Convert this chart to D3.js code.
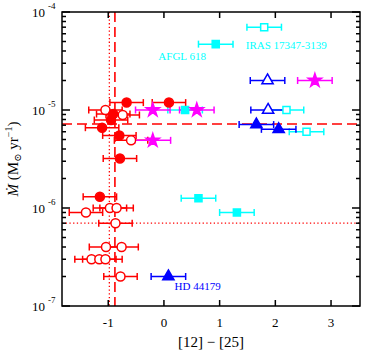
<!DOCTYPE html>
<html>
<head>
<meta charset="utf-8">
<script src="https://cdn.jsdelivr.net/npm/d3@7"></script>
<style>
  body { margin: 0; background: #fff; }
  svg { display: block; }
  text { font-family: "Liberation Serif", "DejaVu Serif", serif; }
</style>
</head>
<body>
<div id="chart"></div>
<script>
// [x = [12]-[25], Mdot, xerr]
const redFilled = [
    [-0.67, 1.19e-5, 0.3], [0.09, 1.19e-5, 0.3], [-0.91, 9.1e-6, 0.3],
    [-0.95, 7.9e-6, 0.3], [-1.11, 6.6e-6, 0.3], [-0.80, 5.5e-6, 0.3],
    [-0.79, 3.2e-6, 0.3], [-1.15, 1.3e-6, 0.3]
];
const redOpen = [
    [-1.05, 1.0e-5, 0.3], [-0.74, 8.9e-6, 0.3], [-0.59, 4.9e-6, 0.3],
    [-0.97, 1.0e-6, 0.3], [-0.85, 1.0e-6, 0.3], [-1.40, 9.0e-7, 0.3],
    [-0.87, 7.0e-7, 0.3], [-1.04, 4.0e-7, 0.3], [-0.76, 4.0e-7, 0.3],
    [-1.30, 3.0e-7, 0.3], [-1.16, 3.0e-7, 0.3], [-1.05, 3.0e-7, 0.3],
    [-0.78, 2.0e-7, 0.3]
];
const magentaStars = [
    [-0.20, 1.0e-5, 0.31], [0.59, 1.0e-5, 0.31], [-0.20, 4.9e-6, 0.32], [2.71, 2.0e-5, 0.31]
];
const cyanFilled = [
    [0.93, 4.7e-5, 0.31], [0.38, 1.0e-5, 0.31], [0.62, 1.26e-6, 0.31], [1.31, 9.0e-7, 0.31]
];
const cyanOpen = [
    [1.80, 7.0e-5, 0.31], [2.20, 1.0e-5, 0.31], [2.56, 6.0e-6, 0.31]
];
const blueOpen = [
    [1.86, 2.0e-5, 0.31], [1.87, 1.0e-5, 0.31]
];
const blueFilled = [
    [1.66, 7.1e-6, 0.31], [2.06, 6.35e-6, 0.31], [0.08, 2.0e-7, 0.31]
];
const xTicks = [-1, 0, 1, 2, 3];
const yTicks = [1e-7, 1e-6, 1e-5, 1e-4];
const yTickExp = ["-7", "-6", "-5", "-4"];
const dashedX = -0.88, dashedY = 7.2e-6;
const dottedX = -0.98, dottedY = 7.0e-7;
const labels = [
    {text: "AFGL 618", x: -0.10, y: 3.2e-5, color: "#00ffff"},
    {text: "IRAS 17347-3139", x: 1.47, y: 4.2e-5, color: "#00ffff"},
    {text: "HD 44179", x: 0.19, y: 1.45e-7, color: "#0000ff"}
];

const width = 366, height = 354;
const margin = {top: 12, right: 6, bottom: 48, left: 62};

const svg = d3.select("#chart").append("svg")
    .attr("width", width)
    .attr("height", height);

const x = d3.scaleLinear().domain([-1.83, 3.52]).range([margin.left, width - margin.right]);
const y = d3.scaleLog().domain([1e-7, 1e-4]).range([height - margin.bottom, margin.top]);

const x0 = margin.left, x1 = width - margin.right;
const y0 = height - margin.bottom, y1 = margin.top;

// reference lines
const refs = svg.append("g").attr("stroke", "#ff0000").attr("fill", "none");
refs.append("line").attr("x1", x(dashedX)).attr("x2", x(dashedX)).attr("y1", y1).attr("y2", y0)
    .attr("stroke-width", 1.6).attr("stroke-dasharray", "10,5");
refs.append("line").attr("x1", x0).attr("x2", x1).attr("y1", y(dashedY)).attr("y2", y(dashedY))
    .attr("stroke-width", 1.6).attr("stroke-dasharray", "10,5");
refs.append("line").attr("x1", x(dottedX)).attr("x2", x(dottedX)).attr("y1", y1).attr("y2", y0)
    .attr("stroke-width", 1.3).attr("stroke-dasharray", "1.3,2.4");
refs.append("line").attr("x1", x0).attr("x2", x1).attr("y1", y(dottedY)).attr("y2", y(dottedY))
    .attr("stroke-width", 1.3).attr("stroke-dasharray", "1.3,2.4");

function errorBars(data, color) {
    const g = svg.append("g").attr("stroke", color).attr("stroke-width", 1.5).attr("fill", "none");
    data.forEach(d => {
        const yy = y(d[1]), xa = x(d[0] - d[2]), xb = x(d[0] + d[2]);
        g.append("line").attr("x1", xa).attr("x2", xb).attr("y1", yy).attr("y2", yy);
        g.append("line").attr("x1", xa).attr("x2", xa).attr("y1", yy - 3.5).attr("y2", yy + 3.5);
        g.append("line").attr("x1", xb).attr("x2", xb).attr("y1", yy - 3.5).attr("y2", yy + 3.5);
    });
}

function markers(data, color, type, size, filled) {
    svg.append("g").selectAll("path")
        .data(data)
        .enter().append("path")
        .attr("d", d3.symbol().type(type).size(size))
        .attr("transform", d => `translate(${x(d[0])},${y(d[1])})`)
        .attr("fill", filled ? color : "#fff")
        .attr("stroke", color)
        .attr("stroke-width", 1.5);
}

const groups = [
    [redOpen, "#ff0000", d3.symbolCircle, 64, false],
    [redFilled, "#ff0000", d3.symbolCircle, 64, true],
    [cyanFilled, "#00ffff", d3.symbolSquare, 50, true],
    [cyanOpen, "#00ffff", d3.symbolSquare, 50, false],
    [magentaStars, "#ff00ff", d3.symbolStar, 55, true],
    [blueOpen, "#0000ff", d3.symbolTriangle, 55, false],
    [blueFilled, "#0000ff", d3.symbolTriangle, 55, true]
];
groups.forEach(g => errorBars(g[0], g[1]));
groups.forEach(g => markers(...g));

// labels
svg.append("g").selectAll("text")
    .data(labels)
    .enter().append("text")
    .attr("x", d => x(d.x))
    .attr("y", d => y(d.y))
    .attr("fill", d => d.color)
    .attr("font-size", 11)
    .text(d => d.text);

// frame and ticks
const axes = svg.append("g").attr("stroke", "#000").attr("stroke-width", 1.5);
axes.append("rect").attr("x", x0).attr("y", y1).attr("width", x1 - x0).attr("height", y0 - y1)
    .attr("fill", "none");

xTicks.forEach(t => {
    axes.append("line").attr("x1", x(t)).attr("x2", x(t)).attr("y1", y0).attr("y2", y0 - 6);
    axes.append("line").attr("x1", x(t)).attr("x2", x(t)).attr("y1", y1).attr("y2", y1 + 6);
    svg.append("text").attr("x", x(t)).attr("y", y0 + 21).attr("text-anchor", "middle")
        .attr("font-size", 13).text(t < 0 ? "-" + Math.abs(t) : t);
});

for (let e = -7; e < -4; e++) {
    for (let m = 2; m <= 9; m++) {
        const v = m * Math.pow(10, e);
        axes.append("line").attr("x1", x0).attr("x2", x0 + 4).attr("y1", y(v)).attr("y2", y(v));
        axes.append("line").attr("x1", x1).attr("x2", x1 - 4).attr("y1", y(v)).attr("y2", y(v));
    }
}
yTicks.forEach((t, i) => {
    axes.append("line").attr("x1", x0).attr("x2", x0 + 8).attr("y1", y(t)).attr("y2", y(t));
    axes.append("line").attr("x1", x1).attr("x2", x1 - 8).attr("y1", y(t)).attr("y2", y(t));
    svg.append("text").attr("x", 45).attr("y", y(t) + 4.5).attr("text-anchor", "end")
        .attr("font-size", 13).text("10");
    svg.append("text").attr("x", 48).attr("y", y(t) - 3).attr("font-size", 9).text(yTickExp[i]);
});

// axis titles
svg.append("text")
    .attr("x", (x0 + x1) / 2).attr("y", 347)
    .attr("text-anchor", "middle").attr("font-size", 15)
    .text("[12] \u2212 [25]");

const yt = svg.append("text")
    .attr("transform", `translate(18,${(y0 + y1) / 2}) rotate(-90)`)
    .attr("text-anchor", "middle").attr("font-size", 15);
yt.append("tspan").attr("font-style", "italic").text("\u1E40");
yt.append("tspan").text(" (M");
yt.append("tspan").attr("font-size", 10).attr("dy", 3).text("\u2299");
yt.append("tspan").attr("dy", -3).text(" yr");
yt.append("tspan").attr("font-size", 10).attr("dy", -6).text("\u22121");
yt.append("tspan").attr("dy", 6).text(")");
</script>
</body>
</html>
